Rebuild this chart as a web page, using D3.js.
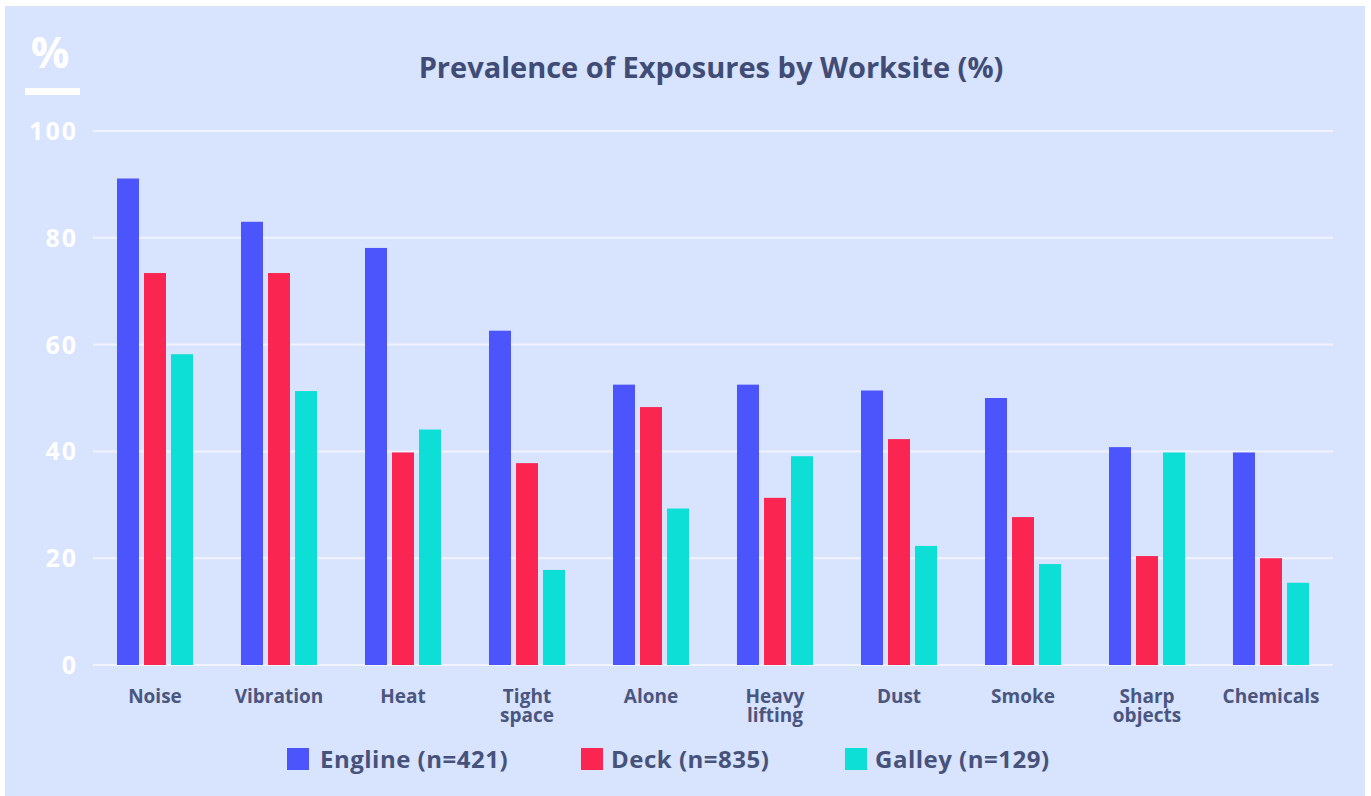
<!DOCTYPE html>
<html><head><meta charset="utf-8">
<script src="https://cdn.jsdelivr.net/npm/d3@7"></script>
<style>
html,body{margin:0;padding:0;background:#ffffff;}
svg{display:block;}
text{font-family:"Open Sans",sans-serif;font-weight:700;}
</style></head>
<body>
<svg id="chart" width="1371" height="796"></svg>
<script>
const categories = ["Noise","Vibration","Heat","Tight space","Alone","Heavy lifting","Dust","Smoke","Sharp objects","Chemicals"];
const seriesNames = ["Engline (n=421)","Deck (n=835)","Galley (n=129)"];
const engineValues = [91.1,83,78.1,62.6,52.5,52.5,51.4,50,40.8,39.8];
const deckValues   = [73.4,73.4,39.8,37.8,48.3,31.3,42.3,27.7,20.4,20];
const galleyValues = [58.2,51.3,44.1,17.8,29.3,39.1,22.3,18.9,39.8,15.4];
const yTicks = [0,20,40,60,80,100];
const title = "Prevalence of Exposures by Worksite (%)";
const colors = ["#4b55fb","#fa2551","#0ddfd7"];

const seriesValues = [engineValues, deckValues, galleyValues];
const rows = categories.map((c,i)=>({cat:c, vals: seriesNames.map((s,j)=>({s, v: seriesValues[j][i]}))}));

const svg = d3.select("#chart");
svg.append("rect").attr("x",5).attr("y",6).attr("width",1360).attr("height",790).attr("fill","#d8e3fd");

const x0 = d3.scaleBand().domain(categories).range([93,1333]).paddingInner(0.387).paddingOuter(0.1935);
const x1 = d3.scaleBand().domain(seriesNames).range([0,x0.bandwidth()]).paddingInner(0.185);
const y = d3.scaleLinear().domain([0,100]).range([665,131]);

// gridlines
svg.append("g").selectAll("line").data(yTicks).join("line")
  .attr("x1",93).attr("x2",1333)
  .attr("y1",d=>y(d)).attr("y2",d=>y(d))
  .attr("stroke","#f1f4ff").attr("stroke-width",2);

// y tick labels
svg.append("g").selectAll("text").data(yTicks).join("text")
  .attr("x",78).attr("y",d=>y(d)).attr("dy","0.36em")
  .attr("text-anchor","end").attr("fill","#ffffff").attr("font-size",25)
  .attr("letter-spacing",2)
  .text(d=>d);

// % marker
svg.append("text").attr("x",50).attr("y",68).attr("text-anchor","middle")
  .attr("fill","#ffffff").attr("font-size",43).text("%");
svg.append("rect").attr("x",25).attr("y",88).attr("width",55).attr("height",7).attr("fill","#ffffff");

// title
svg.append("text").attr("x",711).attr("y",78).attr("text-anchor","middle")
  .attr("fill","#404c76").attr("font-size",29).text(title);

// bars
const groups = svg.append("g").selectAll("g").data(rows).join("g")
  .attr("transform",d=>`translate(${x0(d.cat)},0)`);
groups.selectAll("rect").data(d=>d.vals).join("rect")
  .attr("x",d=>x1(d.s)).attr("width",x1.bandwidth())
  .attr("y",d=>y(d.v)).attr("height",d=>y(0)-y(d.v))
  .attr("fill",(d,i)=>colors[i]);

// category labels (one text per line)
const catLines = [];
categories.forEach(c=>{
  c.split(" ").forEach((w,i)=>catLines.push({c, w, i}));
});
svg.append("g").selectAll("text").data(catLines).join("text")
  .attr("x",d=>x0(d.c)+x0.bandwidth()/2).attr("y",d=>703+d.i*19)
  .attr("text-anchor","middle").attr("fill","#4a5680").attr("font-size",19)
  .text(d=>d.w);

// legend
const legendX = [287,581,845];
const lg = svg.append("g").selectAll("g").data(seriesNames).join("g")
  .attr("transform",(d,i)=>`translate(${legendX[i]},748)`);
lg.append("rect").attr("width",22).attr("height",22).attr("fill",(d,i)=>colors[i]);
lg.append("text").attr("x",(d,i)=>i===0?33:30).attr("y",20).attr("fill","#46527b").attr("font-size",24)
  .attr("letter-spacing",0.5).text(d=>d);
</script>
</body></html>
